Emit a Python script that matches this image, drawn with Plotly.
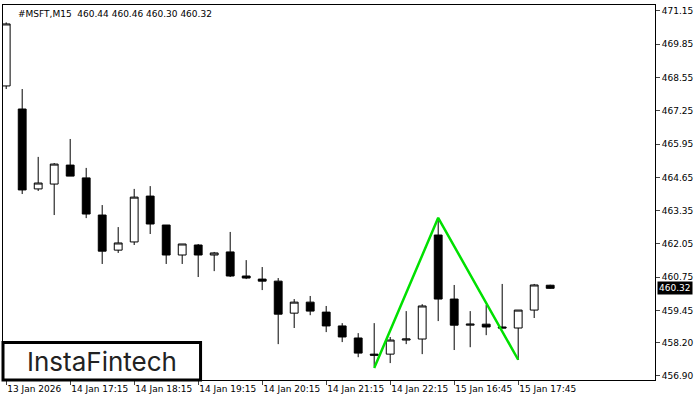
import plotly.graph_objects as go

# OHLC values (M15 candles)
opens = [468.22, 467.32, 464.20, 464.39, 465.13, 464.63, 463.18, 461.81, 462.13, 463.92,
         462.79, 461.62, 462.01, 461.62, 461.74, 460.80, 460.68, 460.60, 459.35, 459.78,
         459.39, 458.85, 458.38, 457.75, 457.75, 458.30, 458.34, 462.40, 459.90, 458.88,
         458.92, 458.81, 458.77, 459.47, 460.44]
highs = [470.70, 468.10, 465.45, 465.21, 466.15, 465.02, 463.57, 462.71, 464.20, 464.31,
         462.79, 462.05, 462.05, 461.74, 462.52, 461.42, 461.15, 460.72, 459.90, 460.02,
         459.63, 458.96, 458.57, 458.96, 458.42, 459.43, 459.70, 463.06, 460.45, 459.43,
         459.67, 460.49, 459.47, 460.49, 460.46]
lows = [468.10, 464.00, 464.12, 463.18, 464.70, 463.06, 461.27, 461.70, 462.01, 462.44,
        461.27, 461.27, 460.76, 460.99, 460.76, 460.68, 460.25, 458.14, 458.77, 459.27,
        458.61, 458.22, 457.63, 457.28, 457.40, 458.14, 457.75, 459.04, 457.91, 458.02,
        458.49, 458.77, 457.52, 459.16, 460.30]
closes = [470.64, 464.16, 464.43, 465.17, 464.70, 463.22, 461.77, 462.09, 463.88, 462.83,
          461.62, 462.05, 461.62, 461.70, 460.80, 460.72, 460.60, 459.31, 459.78, 459.43,
          458.85, 458.42, 457.79, 457.71, 458.30, 458.34, 459.63, 459.90, 458.88, 458.92,
          458.81, 458.77, 459.47, 460.45, 460.32]

pattern_idx = [23, 27, 32]
pattern_px = [457.21, 463.07, 457.53]

tick_idx = [0, 4, 8, 12, 16, 20, 24, 28, 32]
tick_text = ["13 Jan 2026", "14 Jan 17:15", "14 Jan 18:15", "14 Jan 19:15", "14 Jan 20:15",
             "14 Jan 21:15", "14 Jan 22:15", "15 Jan 16:45", "15 Jan 17:45"]
price_ticks = [471.15, 469.85, 468.55, 467.25, 465.95, 464.65, 463.35, 462.05,
               460.75, 459.45, 458.20, 456.90]
last_price = 460.32

x = list(range(len(opens)))

fig = go.Figure()
fig.add_trace(go.Candlestick(
    x=x, open=opens, high=highs, low=lows, close=closes,
    increasing=dict(fillcolor="white", line=dict(color="black", width=1)),
    decreasing=dict(fillcolor="black", line=dict(color="black", width=1)),
    whiskerwidth=0, showlegend=False, hoverinfo="skip"
))
fig.add_trace(go.Scatter(
    x=pattern_idx, y=pattern_px, mode="lines",
    line=dict(color="#00e000", width=2.5), showlegend=False, hoverinfo="skip"
))
fig.add_hline(y=last_price, line=dict(color="black", width=1))

fig.update_layout(
    width=700, height=400,
    margin=dict(l=3, r=45, t=5, b=20),
    paper_bgcolor="white", plot_bgcolor="white",
    font=dict(family="DejaVu Sans", size=9, color="black"),
    xaxis=dict(range=[-0.2, 40.55], rangeslider=dict(visible=False), automargin=False,
               tickvals=tick_idx, ticktext=tick_text, ticks="outside", ticklen=4,
               ticklabelposition="outside right", tickangle=0,
               showgrid=False, zeroline=False, showline=True, linecolor="black",
               mirror=True, tickfont=dict(size=9)),
    yaxis=dict(range=[456.74, 471.38], side="right", tickvals=price_ticks, automargin=False,
               ticktext=[f"{v:.2f}" for v in price_ticks], ticks="outside", ticklen=4,
               showgrid=False, zeroline=False, showline=True, linecolor="black",
               mirror=True, tickfont=dict(size=9)),
    annotations=[
        dict(text="#MSFT,M15  460.44 460.46 460.30 460.32", xref="paper", yref="paper",
             x=0.02, y=0.995, xanchor="left", yanchor="top", showarrow=False,
             font=dict(size=9)),
        dict(text=f"{last_price:.2f}", xref="paper", yref="y", x=1.0, y=last_price,
             xanchor="left", yanchor="middle", showarrow=False, bgcolor="black",
             font=dict(color="white", size=9), xshift=2, borderpad=1),
        dict(text="InstaFintech", xref="paper", yref="paper", x=0.152, y=0.05,
             xanchor="center", yanchor="middle", showarrow=False,
             font=dict(family="Inter", size=26, color="#222")),
    ],
    shapes=[dict(type="rect", xref="paper", yref="paper", x0=0, x1=0.303, y0=0.0, y1=0.1,
                 line=dict(color="black", width=3), fillcolor="white", layer="above")],
)

fig.write_html("out.html", config={"displayModeBar": False},
               post_script="document.body.style.margin='0';")
